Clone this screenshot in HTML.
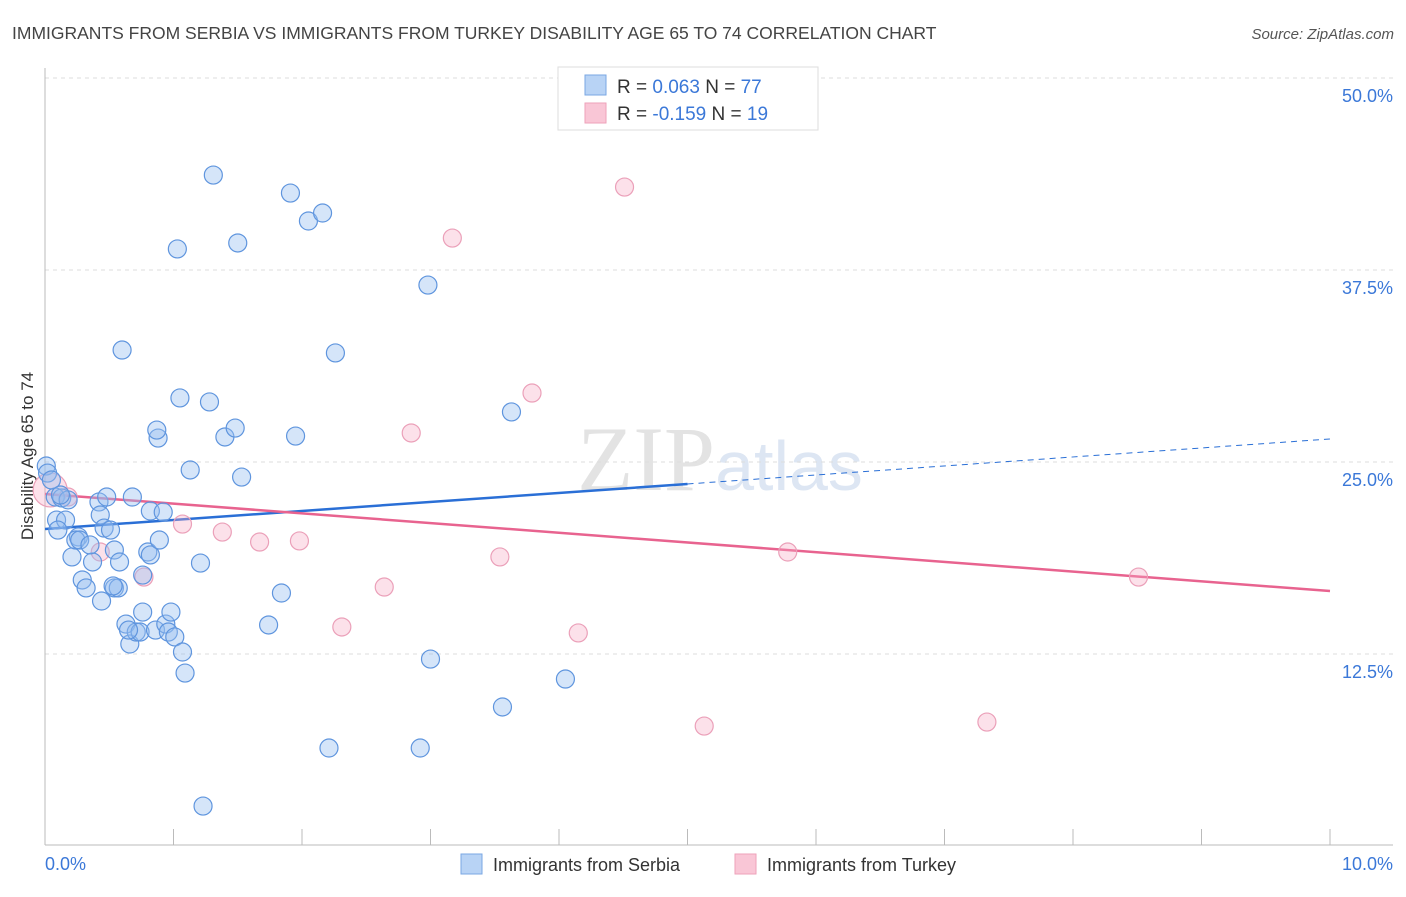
<!DOCTYPE html>
<html><head><meta charset="utf-8"><style>
body{margin:0;background:#fff;font-family:"Liberation Sans",sans-serif}
</style></head><body>
<svg width="1406" height="892" viewBox="0 0 1406 892" xmlns="http://www.w3.org/2000/svg" style="font-family:'Liberation Sans',sans-serif">
<text x="12" y="39" font-size="17.5" fill="#444">IMMIGRANTS FROM SERBIA VS IMMIGRANTS FROM TURKEY DISABILITY AGE 65 TO 74 CORRELATION CHART</text>
<text x="1394" y="39" font-size="15" fill="#555" font-style="italic" text-anchor="end">Source: ZipAtlas.com</text>
<text x="720" y="490" font-size="92" fill="#e3e3e3" text-anchor="middle" font-family="Liberation Serif,serif">ZIP<tspan fill="#dde6f3" font-family="Liberation Sans,sans-serif" font-size="70">atlas</tspan></text>
<g id="grid"></g>
<g id="axes"></g>
<text transform="translate(33,456) rotate(-90)" font-size="17" fill="#333" text-anchor="middle">Disability Age 65 to 74</text>
<g id="trends"></g>
<g id="pts"></g>
<g>
<rect x="558" y="67" width="260" height="63" fill="#fff" stroke="#ddd"/>
<rect x="585" y="75" width="21" height="20" fill="#b8d3f5" stroke="#7aa7e3"/>
<rect x="585" y="103" width="21" height="20" fill="#f9c6d6" stroke="#eea2ba"/>
<text x="617" y="93" font-size="19" fill="#333">R = <tspan fill="#3b78d8">0.063</tspan>   N = <tspan fill="#3b78d8">77</tspan></text>
<text x="617" y="120" font-size="19" fill="#333">R = <tspan fill="#3b78d8">-0.159</tspan>   N = <tspan fill="#3b78d8">19</tspan></text>
</g>
<g>
<rect x="461" y="854" width="21" height="20" fill="#b8d3f5" stroke="#7aa7e3"/>
<text x="493" y="871" font-size="18" fill="#333">Immigrants from Serbia</text>
<rect x="735" y="854" width="21" height="20" fill="#f9c6d6" stroke="#eea2ba"/>
<text x="767" y="871" font-size="18" fill="#333">Immigrants from Turkey</text>
</g>
<text x="45" y="870" font-size="18" fill="#3b78d8">0.0%</text>
<text x="1393" y="870" font-size="18" fill="#3b78d8" text-anchor="end">10.0%</text>
</svg>
<script>
const yTicks=[12.5,25,37.5,50];
const yTickLabels=["12.5%","25.0%","37.5%","50.0%"];
const serbiaX=[0.01,0.08,0.13,0.18,0.09,0.16,0.10,0.21,0.26,0.24,0.27,0.29,0.32,0.37,0.42,0.43,0.48,0.46,0.51,0.54,0.54,0.57,0.58,0.44,0.60,0.63,0.66,0.68,0.71,0.74,0.76,0.80,0.82,0.82,0.76,0.86,0.88,0.87,0.89,0.92,0.94,0.96,0.98,1.01,1.03,1.05,1.07,1.09,1.13,1.21,1.23,1.28,1.31,1.40,1.48,1.50,1.53,1.74,1.84,1.91,1.95,2.05,2.16,2.21,2.26,2.92,2.98,3.00,3.56,3.63,4.05,0.02,0.05,0.12,0.35,0.53,0.65];
const serbiaY=[24.74,22.72,22.66,22.53,21.22,21.22,20.57,18.82,20.12,19.92,19.92,17.32,16.80,18.49,22.40,21.55,22.72,20.70,20.57,19.27,16.80,16.80,18.49,15.95,32.29,14.45,13.15,22.72,13.93,13.93,15.23,19.14,18.95,21.81,17.64,14.06,26.56,27.08,19.92,21.74,14.45,13.93,15.23,13.61,38.87,29.17,12.63,11.26,24.48,18.42,2.60,28.91,43.68,26.63,27.21,39.26,24.02,14.39,16.47,42.51,26.69,40.69,41.21,6.38,32.10,6.38,36.52,12.17,9.05,28.26,10.87,24.28,23.83,22.85,19.60,16.93,14.06];
const turkeyX=[0.04,0.18,0.43,0.77,1.07,1.38,1.67,1.98,2.31,2.64,2.85,3.17,3.54,3.79,4.15,4.51,5.13,5.78,7.33,8.51];
const turkeyY=[23.18,22.72,19.14,17.51,20.96,20.44,19.79,19.86,14.26,16.86,26.89,39.58,18.82,29.49,13.87,42.90,7.81,19.14,8.07,17.51];
const serbiaTrend=[20.64,26.50];
const turkeyTrend=[22.92,16.60];
const NS="http://www.w3.org/2000/svg";
const X=v=>45+v*128.5, Y=v=>846-v*15.36;
function mk(t,a,p){const e=document.createElementNS(NS,t);for(const k in a)e.setAttribute(k,a[k]);p.appendChild(e);return e;}
const grid=document.getElementById('grid'),axes=document.getElementById('axes');
yTicks.forEach((t,i)=>{
 const l=mk('line',{x1:45,x2:1393,y1:Y(t),y2:Y(t),stroke:'#ddd','stroke-dasharray':'4,4'},grid);
 
 
 const tx=mk('text',{x:1393,y:Y(t)+24,'font-size':18,fill:'#3b78d8','text-anchor':'end'},grid);
 tx.textContent=yTickLabels[i];
 
 
});
mk('line',{x1:45,x2:45,y1:68,y2:845,stroke:'#bbb'},axes);
mk('line',{x1:45,x2:1393,y1:845,y2:845,stroke:'#bbb'},axes);
for(let i=1;i<=10;i++){const t=mk('line',{x1:X(i),x2:X(i),y1:829,y2:845,stroke:'#bbb'},axes);
 
 }
const tr=document.getElementById('trends');
const split=5;
const bs=serbiaTrend[0]+(serbiaTrend[1]-serbiaTrend[0])*split/10;
let l1=mk('line',{x1:X(0),y1:Y(serbiaTrend[0]),x2:X(split),y2:Y(bs),stroke:'#2a6fd6','stroke-width':2.5},tr);


let l2=mk('line',{x1:X(split),y1:Y(bs),x2:X(10),y2:Y(serbiaTrend[1]),stroke:'#2a6fd6','stroke-width':1,'stroke-dasharray':'6,5'},tr);


let l3=mk('line',{x1:X(0),y1:Y(turkeyTrend[0]),x2:X(10),y2:Y(turkeyTrend[1]),stroke:'#e8638f','stroke-width':2.5},tr);


const pts=document.getElementById('pts');
turkeyX.forEach((x,i)=>{const c=mk('circle',{cx:X(x),cy:Y(turkeyY[i]),r:i==0?17:9,fill:'rgba(245,170,195,0.35)',stroke:'#eba0b9','stroke-width':1.2},pts);
 
 });
serbiaX.forEach((x,i)=>{const c=mk('circle',{cx:X(x),cy:Y(serbiaY[i]),r:9,fill:'rgba(150,190,240,0.4)',stroke:'#5f95de','stroke-width':1.2},pts);
 
 });
</script>
</body></html>
